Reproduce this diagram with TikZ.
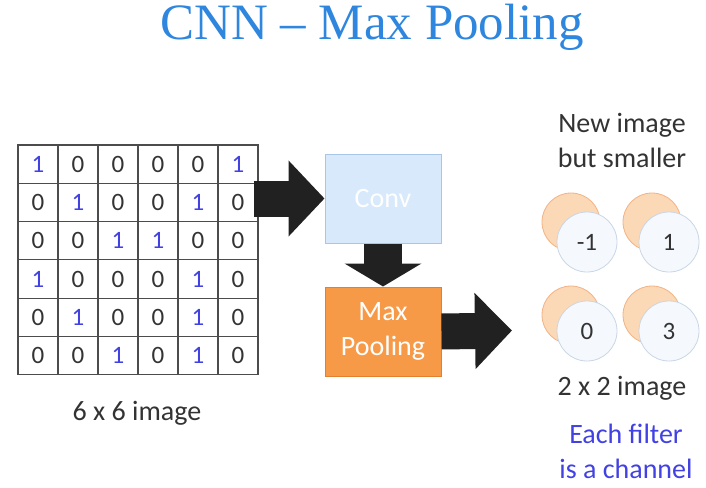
\documentclass[tikz,border=0pt]{standalone}
\usepackage{fontspec}
\setmainfont{Carlito}
\newfontfamily\titlefont[Ligatures=TeX]{Liberation Serif}
\usetikzlibrary{arrows.meta, positioning}

\definecolor{titleblue}{HTML}{2E86DE}
\definecolor{onesblue}{HTML}{4141E4}
\definecolor{textgray}{HTML}{333333}
\definecolor{convfill}{HTML}{D7E9FA}
\definecolor{convdraw}{HTML}{A8C6EA}
\definecolor{poolfill}{HTML}{F79A48}
\definecolor{pooldraw}{HTML}{E3802F}
\definecolor{peachfill}{HTML}{FBD8B6}
\definecolor{peachdraw}{HTML}{F3B384}
\definecolor{pearlfill}{HTML}{F5F9FD}
\definecolor{pearldraw}{HTML}{C9D6E6}

\begin{document}
\begin{tikzpicture}[
    x=1pt, y=-1pt,
    cell/.style = {
        draw=black!70,
        line width=1.1pt,
        minimum width=40pt,
        minimum height=38.3pt,
        inner sep=0pt,
        font=\fontsize{25}{25}\selectfont,
        text=textgray
    },
    block/.style = {
        draw,
        line width=1pt,
        minimum width=116pt,
        minimum height=89pt,
        align=center,
        text=white,
        font=\fontsize{28}{35}\selectfont
    },
    fatarrow/.style = {
        draw=black!87,
        line width=#1
    },
    back/.style = {
        circle,
        fill=peachfill,
        draw=peachdraw,
        line width=0.8pt,
        minimum size=58pt
    },
    front/.style = {
        circle,
        fill=pearlfill,
        draw=pearldraw,
        line width=0.8pt,
        minimum size=60pt,
        font=\fontsize{25}{25}\selectfont,
        text=textgray
    },
    label/.style = {
        align=center,
        text=textgray,
        font=\fontsize{28}{35}\selectfont
    }
]
  \useasboundingbox (0,0) rectangle (706,487);

  % title
  \node[anchor=base, text=titleblue, font=\titlefont\fontsize{51}{51}\selectfont] (title) at (372,40) {CNN -- Max Pooling};

  % 6 x 6 input
  \foreach \row [count=\i] in {{1,0,0,0,0,1},{0,1,0,0,1,0},{0,0,1,1,0,0},{1,0,0,0,1,0},{0,1,0,0,1,0},{0,0,1,0,1,0}} {
    \foreach \v [count=\j] in \row {
      \ifnum\v=1
        \node[cell, text=onesblue] (c-\i-\j) at ({-2+40*\j}, {125.85+38.3*\i}) {\v};
      \else
        \node[cell] (c-\i-\j) at ({-2+40*\j}, {125.85+38.3*\i}) {\v};
      \fi
    }
  }
  \node[label] (inlabel) at (137,413) {6 x 6 image};

  % conv and pooling
  \node[block, fill=convfill, draw=convdraw] (conv) at (383,198.5) {Conv};
  \node[block, fill=poolfill, draw=pooldraw] (pool) [below=43pt of conv] {Max\\Pooling};
  \coordinate (pooltip) at (512,330.5);

  \draw[fatarrow=36pt, -{Triangle[length=36pt,width=74pt]}] ([xshift=-5pt]c-2-6.east |- conv.west) to (conv.west);
  \draw[fatarrow=38pt, -{Triangle[length=23pt,width=76pt]}] (conv.south) to (pool.north);
  \draw[fatarrow=36pt, -{Triangle[length=37pt,width=74pt]}] (pool.east) to (pooltip);

  % 2 x 2 output
  \node[label] (newlabel) at (622,140) {New image\\but smaller};
  \node[back] (b-1-1) at (571,222) {};
  \node[back] (b-1-2) at (652,222) {};
  \node[back] (b-2-1) at (571,315) {};
  \node[back] (b-2-2) at (652,315) {};
  \node[front] (f-1-1) at (587,242) {-1};
  \node[front] (f-1-2) at (669,242) {1};
  \node[front] (f-2-1) at (587,331) {0};
  \node[front] (f-2-2) at (669,331) {3};
  \node[label] (outlabel) at (622,388) {2 x 2 image};
  \node[label, text=onesblue] (chlabel) at (626,451) {Each filter\\is a channel};
\end{tikzpicture}
\end{document}
